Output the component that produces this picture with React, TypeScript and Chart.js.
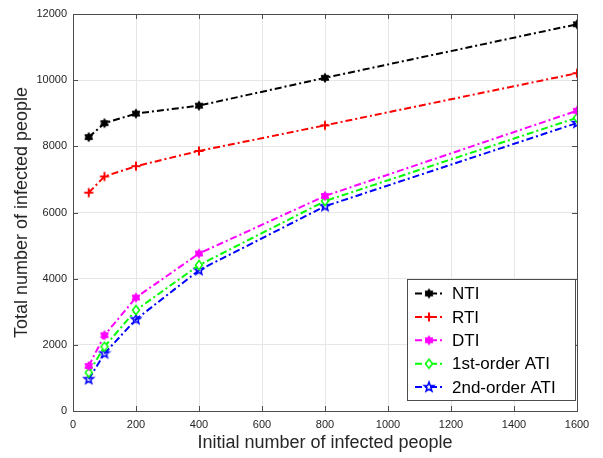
import React, { useEffect, useRef } from "react";
import { Chart, registerables } from "chart.js";

Chart.register(...registerables);

const initialInfected = [50, 100, 200, 400, 800, 1600];
const ntiValues = [8280, 8700, 8990, 9230, 10070, 11690];
const rtiValues = [6600, 7090, 7400, 7860, 8635, 10210];
const dtiValues = [1360, 2290, 3430, 4760, 6500, 9075];
const ati1Values = [1160, 1945, 3050, 4410, 6345, 8865];
const ati2Values = [960, 1740, 2770, 4255, 6188, 8705];
const seriesNames = ["NTI", "RTI", "DTI", "1st-order ATI", "2nd-order ATI"];
const xTitle = "Initial number of infected people";
const yTitle = "Total number of infected people";

const FONT = '"Liberation Sans", Arial, sans-serif';
const DASH = [7, 3, 2, 3];

function makeMarker(kind: string, color: string): HTMLCanvasElement {
  const c = document.createElement("canvas");
  c.width = 14;
  c.height = 14;
  const ctx = c.getContext("2d")!;
  ctx.translate(7, 7);
  ctx.strokeStyle = color;
  ctx.fillStyle = color;
  const star = (n: number, ro: number, ri: number) => {
    ctx.beginPath();
    for (let i = 0; i < n * 2; i++) {
      const r = i % 2 === 0 ? ro : ri;
      const a = -Math.PI / 2 + (i * Math.PI) / n;
      const px = r * Math.cos(a);
      const py = r * Math.sin(a);
      if (i === 0) ctx.moveTo(px, py);
      else ctx.lineTo(px, py);
    }
    ctx.closePath();
  };
  if (kind === "hexagram") {
    star(6, 4.5, 2.8);
    ctx.fill();
    ctx.lineWidth = 1;
    ctx.stroke();
  } else if (kind === "plus") {
    ctx.lineWidth = 2;
    ctx.beginPath();
    ctx.moveTo(-4.5, 0);
    ctx.lineTo(4.5, 0);
    ctx.moveTo(0, -4.5);
    ctx.lineTo(0, 4.5);
    ctx.stroke();
  } else if (kind === "diamond") {
    ctx.lineWidth = 1.5;
    ctx.beginPath();
    ctx.moveTo(0, -4.5);
    ctx.lineTo(3.5, 0);
    ctx.lineTo(0, 4.5);
    ctx.lineTo(-3.5, 0);
    ctx.closePath();
    ctx.fillStyle = "#ffffff";
    ctx.fill();
    ctx.stroke();
  } else if (kind === "pentagram") {
    star(5, 5, 2.1);
    ctx.lineWidth = 1.5;
    ctx.stroke();
  }
  return c;
}

export default function App() {
  const ref = useRef<HTMLCanvasElement | null>(null);

  useEffect(() => {
    document.body.style.margin = "0";
    const canvas = ref.current!;
    const colors = ["#000000", "#ff0000", "#ff00ff", "#00ff00", "#0000ff"];
    const kinds = ["hexagram", "plus", "hexagram", "diamond", "pentagram"];
    const values = [ntiValues, rtiValues, dtiValues, ati1Values, ati2Values];
    const markers = kinds.map((k, i) => makeMarker(k, colors[i]));

    const datasets = values.map((vals, i) => ({
      label: seriesNames[i],
      data: initialInfected.map((x, j) => ({ x, y: vals[j] })),
      borderColor: colors[i],
      backgroundColor: colors[i],
      borderWidth: 2,
      borderDash: DASH,
      pointStyle: markers[i] as any,
      pointRadius: 5,
      fill: false,
      tension: 0,
    }));

    const frameColor = "#4d4d4d";

    const framePlugin = {
      id: "frameAndLegend",
      afterDraw(chart: any) {
        const ctx = chart.ctx as CanvasRenderingContext2D;
        const { left, right, top, bottom } = chart.chartArea;
        const xs = chart.scales.x;
        const ys = chart.scales.y;
        ctx.save();
        ctx.strokeStyle = frameColor;
        ctx.lineWidth = 1;
        ctx.strokeRect(Math.round(left) + 0.5, Math.round(top) + 0.5, Math.round(right - left), Math.round(bottom - top));
        ctx.beginPath();
        const tl = 5;
        xs.ticks.forEach((t: any) => {
          const px = Math.round(xs.getPixelForValue(t.value)) + 0.5;
          ctx.moveTo(px, bottom);
          ctx.lineTo(px, bottom - tl);
          ctx.moveTo(px, top);
          ctx.lineTo(px, top + tl);
        });
        ys.ticks.forEach((t: any) => {
          const py = Math.round(ys.getPixelForValue(t.value)) + 0.5;
          ctx.moveTo(left, py);
          ctx.lineTo(left + tl, py);
          ctx.moveTo(right, py);
          ctx.lineTo(right - tl, py);
        });
        ctx.stroke();

        // legend
        const bx = 407, by = 279, bw = 168, bh = 121;
        ctx.fillStyle = "#ffffff";
        ctx.fillRect(bx, by, bw, bh);
        ctx.strokeStyle = frameColor;
        ctx.strokeRect(bx + 0.5, by + 0.5, bw, bh);
        ctx.font = `17px ${FONT}`;
        ctx.textBaseline = "middle";
        ctx.textAlign = "left";
        chart.data.datasets.forEach((ds: any, i: number) => {
          const y = 293.5 + i * 23.4;
          ctx.save();
          ctx.strokeStyle = ds.borderColor;
          ctx.lineWidth = 2;
          ctx.setLineDash(DASH);
          ctx.beginPath();
          ctx.moveTo(415, y);
          ctx.lineTo(444, y);
          ctx.stroke();
          ctx.restore();
          const m = ds.pointStyle as HTMLCanvasElement;
          ctx.drawImage(m, 429 - m.width / 2, y - m.height / 2);
          ctx.fillStyle = "#000000";
          ctx.fillText(ds.label, 452, y + 1);
        });
        ctx.restore();
      },
    };

    const chart = new Chart(canvas, {
      type: "line",
      data: { datasets },
      options: {
        animation: false,
        responsive: false,
        maintainAspectRatio: false,
        layout: { padding: { left: 0, top: 14, right: 26, bottom: 0 } },
        plugins: { legend: { display: false }, tooltip: { enabled: false } },
        scales: {
          x: {
            type: "linear",
            min: 0,
            max: 1600,
            afterFit: (s: any) => {
              s.height = 47;
            },
            ticks: {
              stepSize: 200,
              padding: 7,
              maxRotation: 0,
              font: { family: FONT, size: 11 },
              color: "#262626",
              callback: (v: any) => String(v),
            },
            grid: { color: "#e6e6e6", drawTicks: false, lineWidth: 1 },
            border: { display: false },
            title: {
              display: true,
              text: xTitle,
              font: { family: FONT, size: 18 },
              color: "#262626",
              padding: { top: 0, bottom: 4 },
            },
          },
          y: {
            type: "linear",
            min: 0,
            max: 12000,
            afterFit: (s: any) => {
              s.width = 73;
            },
            ticks: {
              stepSize: 2000,
              padding: 6,
              font: { family: FONT, size: 11 },
              color: "#262626",
              callback: (v: any) => String(v),
            },
            grid: { color: "#e6e6e6", drawTicks: false, lineWidth: 1 },
            border: { display: false },
            title: {
              display: true,
              text: yTitle,
              font: { family: FONT, size: 18 },
              color: "#262626",
              padding: { top: 11, bottom: 0 },
            },
          },
        },
      } as any,
      plugins: [framePlugin],
    });

    return () => chart.destroy();
  }, []);

  return (
    <div style={{ width: 603, height: 458 }}>
      <canvas ref={ref} width={603} height={458} style={{ display: "block", width: 603, height: 458 }} />
    </div>
  );
}
